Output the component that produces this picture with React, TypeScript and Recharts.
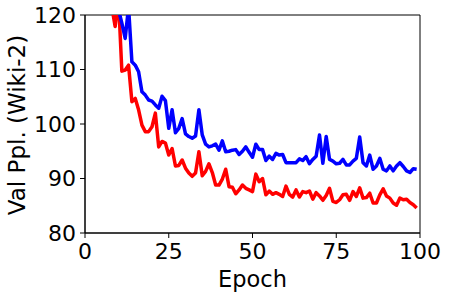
import React from 'react';
import { LineChart, Line, XAxis, YAxis, ReferenceArea, Label } from 'recharts';

// epochs are 1-based; each series starts at the first epoch listed
const RED_START = 7;
const BLUE_START = 9;

const redVals = [
  135, 121.5, 117.9, 123, 109.7, 109.9, 110.8, 104.1, 104.7, 102.6,
  99.8, 98.6, 98.6, 99.5, 102.0, 95.8, 96.8, 96.5, 94.3, 95.5,
  92.3, 92.4, 93.4, 91.9, 91.0, 90.4, 91.0, 94.9, 90.5, 91.3,
  92.7, 91.1, 88.8, 88.8, 89.9, 91.7, 88.5, 88.4, 87.2, 87.9,
  88.8, 88.2, 87.9, 87.6, 90.8, 89.4, 90.0, 87.0, 87.7, 87.1,
  87.4, 87.1, 86.7, 88.6, 87.1, 86.6, 87.9, 86.6, 87.6, 87.4,
  87.7, 86.2, 87.4, 86.8, 86.0, 86.9, 88.2, 85.8, 85.6, 86.1,
  87.0, 87.1, 86.0, 87.6, 86.7, 88.3, 86.4, 86.5, 87.3, 85.5,
  85.5, 87.0, 88.1, 86.8, 86.4, 85.5, 85.1, 86.4, 86.1, 86.2,
  85.6, 85.2, 84.6,
];

const blueVals = [
  135, 121, 118.5, 115.7, 121.5, 111.4, 110.8, 109.6, 105.9, 105.3,
  104.4, 104.2, 103.5, 102.9, 105.1, 104.3, 99.2, 102.6, 98.4, 99.2,
  101.0, 98.2, 97.7, 97.4, 97.8, 102.6, 98.0, 96.3, 95.8, 96.0,
  96.3, 95.2, 96.9, 94.9, 95.0, 95.2, 95.3, 94.4, 95.0, 95.8,
  94.8, 93.9, 96.3, 95.3, 95.3, 93.3, 94.1, 93.5, 94.6, 94.3,
  94.4, 92.9, 92.9, 92.9, 92.9, 93.6, 93.3, 94.0, 92.7, 93.5,
  94.1, 98.0, 92.8, 97.7, 93.5, 93.2, 92.7, 92.8, 93.5, 92.5,
  92.5, 93.2, 93.7, 97.6, 92.9, 92.3, 94.3, 91.7, 92.3, 93.7,
  91.7, 91.4, 92.3, 91.4, 92.3, 92.9, 92.2, 91.4, 91.1, 91.8,
  91.7,
];

const xTicks = [0, 25, 50, 75, 100];
const yTicks = [80, 90, 100, 110, 120];

const FONT = '"DejaVu Sans", sans-serif';

const chartData = redVals.map((r, i) => {
  const epoch = RED_START + i;
  const b = epoch >= BLUE_START ? blueVals[epoch - BLUE_START] : null;
  return { epoch, red: r, blue: b };
});

const tickStyle = { fill: '#000', fontSize: 22, fontFamily: FONT };

// rotated y label, centred on the plot area
const YLabel = () => {
  const cx = 25;
  const cy = 125;
  return (
    <text
      x={cx}
      y={cy}
      transform={`rotate(-90 ${cx} ${cy})`}
      textAnchor="middle"
      fill="#000"
      fontSize={23}
      fontFamily={FONT}
    >
      Val Ppl. (Wiki-2)
    </text>
  );
};

export default function App() {
  return (
    <div style={{ position: 'absolute', left: 0, top: 0, width: 449, height: 297, background: '#fff' }}>
      <LineChart
        width={449}
        height={297}
        data={chartData}
        margin={{ top: 15, right: 29, bottom: 0, left: 0 }}
      >
        <XAxis
          dataKey="epoch"
          type="number"
          domain={[0, 100]}
          ticks={xTicks}
          interval={0}
          height={64}
          axisLine={{ stroke: '#000' }}
          tickLine={{ stroke: '#000' }}
          tickSize={5}
          tickMargin={5}
          tick={tickStyle}
        >
          <Label value="Epoch" position="insideBottom" offset={10} fill="#000" fontSize={22.5} fontFamily={FONT} />
        </XAxis>
        <YAxis
          type="number"
          domain={[80, 120]}
          ticks={yTicks}
          interval={0}
          allowDataOverflow
          width={85}
          axisLine={{ stroke: '#000' }}
          tickLine={{ stroke: '#000' }}
          tickSize={5}
          tickMargin={4}
          tick={tickStyle}
        >
          <Label content={YLabel} />
        </YAxis>
        <ReferenceArea x1={0} x2={100} y1={80} y2={120} fill="none" stroke="#000" strokeWidth={1} fillOpacity={0} />
        <Line
          type="linear"
          dataKey="red"
          stroke="#ff0000"
          strokeWidth={3.5}
          dot={false}
          activeDot={false}
          isAnimationActive={false}
          strokeLinejoin="round"
        />
        <Line
          type="linear"
          dataKey="blue"
          stroke="#0000ff"
          strokeWidth={3.5}
          dot={false}
          activeDot={false}
          isAnimationActive={false}
          strokeLinejoin="round"
        />
      </LineChart>
    </div>
  );
}
